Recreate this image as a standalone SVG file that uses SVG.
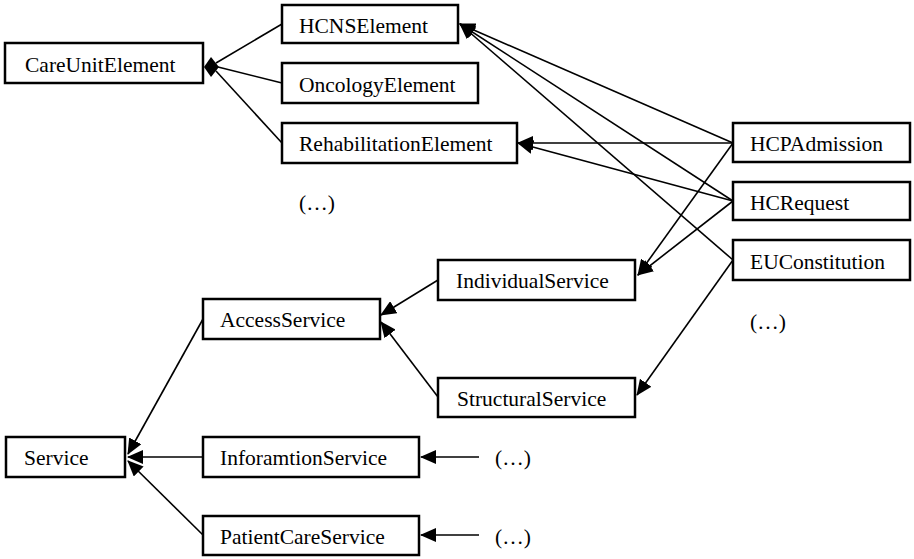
<svg xmlns="http://www.w3.org/2000/svg" width="914" height="559" viewBox="0 0 914 559">
<style>
.box{fill:#fff;stroke:#000;stroke-width:2.5}
.t{font-family:"Liberation Serif","Times New Roman",serif;font-size:21.5px;fill:#000}
.c line{stroke:#000;stroke-width:1.6}
</style>
<defs>
<marker id="ah" markerUnits="userSpaceOnUse" markerWidth="16" markerHeight="14" viewBox="0 0 16 14" refX="15" refY="7" orient="auto">
<path d="M0,0 L16,7 L0,14 z" fill="#000"/>
</marker>
</defs>
<rect width="914" height="559" fill="#fff"/>
<g class="c" id="connectors">
<line x1="282" y1="24" x2="216" y2="63"/>
<line x1="282" y1="83" x2="218" y2="67"/>
<line x1="282" y1="143" x2="216" y2="71"/>
<polygon points="204,67 211,57 219,67 211,77" fill="#000"/>
<line x1="733" y1="143" x2="460" y2="24" marker-end="url(#ah)"/>
<line x1="733" y1="201" x2="460" y2="24" marker-end="url(#ah)"/>
<line x1="733" y1="260" x2="460" y2="24" marker-end="url(#ah)"/>
<line x1="733" y1="143" x2="518" y2="143" marker-end="url(#ah)"/>
<line x1="733" y1="201" x2="518" y2="143" marker-end="url(#ah)"/>
<line x1="733" y1="143" x2="638" y2="275" marker-end="url(#ah)"/>
<line x1="733" y1="201" x2="638" y2="275" marker-end="url(#ah)"/>
<line x1="733" y1="260" x2="637" y2="395" marker-end="url(#ah)"/>
<line x1="438" y1="280" x2="381" y2="315" marker-end="url(#ah)"/>
<line x1="438" y1="397" x2="381" y2="322" marker-end="url(#ah)"/>
<line x1="203" y1="319" x2="128" y2="454" marker-end="url(#ah)"/>
<line x1="203" y1="457" x2="128" y2="457" marker-end="url(#ah)"/>
<line x1="203" y1="535" x2="128" y2="461" marker-end="url(#ah)"/>
<line x1="479" y1="457" x2="421" y2="457" marker-end="url(#ah)"/>
<line x1="479" y1="535" x2="421" y2="535" marker-end="url(#ah)"/>
</g>
<g id="CareUnitElement"><rect class="box" x="5" y="43" width="198" height="40"/><text class="t" x="25" y="72">CareUnitElement</text></g>
<g id="HCNSElement"><rect class="box" x="282" y="5" width="176" height="38"/><text class="t" x="299" y="33">HCNSElement</text></g>
<g id="OncologyElement"><rect class="box" x="282" y="63" width="196" height="40"/><text class="t" x="299" y="92">OncologyElement</text></g>
<g id="RehabilitationElement"><rect class="box" x="282" y="123" width="235" height="40"/><text class="t" x="299" y="151">RehabilitationElement</text></g>
<g id="more1"><text class="t" x="299" y="210">(…)</text></g>
<g id="HCPAdmission"><rect class="box" x="733" y="123" width="177" height="39"/><text class="t" x="750" y="151">HCPAdmission</text></g>
<g id="HCRequest"><rect class="box" x="733" y="182" width="177" height="38"/><text class="t" x="750" y="210">HCRequest</text></g>
<g id="EUConstitution"><rect class="box" x="733" y="240" width="177" height="40"/><text class="t" x="750" y="269">EUConstitution</text></g>
<g id="more2"><text class="t" x="750" y="329">(…)</text></g>
<g id="IndividualService"><rect class="box" x="438" y="260" width="197" height="40"/><text class="t" x="456" y="288">IndividualService</text></g>
<g id="StructuralService"><rect class="box" x="438" y="378" width="197" height="39"/><text class="t" x="457" y="406">StructuralService</text></g>
<g id="AccessService"><rect class="box" x="203" y="299" width="177" height="40"/><text class="t" x="220" y="327">AccessService</text></g>
<g id="Service"><rect class="box" x="6" y="437" width="119" height="40"/><text class="t" x="24" y="465">Service</text></g>
<g id="InforamtionService"><rect class="box" x="203" y="437" width="216" height="40"/><text class="t" x="220" y="465">InforamtionService</text></g>
<g id="PatientCareService"><rect class="box" x="203" y="516" width="216" height="39"/><text class="t" x="220" y="544">PatientCareService</text></g>
<g id="more3"><text class="t" x="495" y="465">(…)</text></g>
<g id="more4"><text class="t" x="495" y="544">(…)</text></g>
</svg>
